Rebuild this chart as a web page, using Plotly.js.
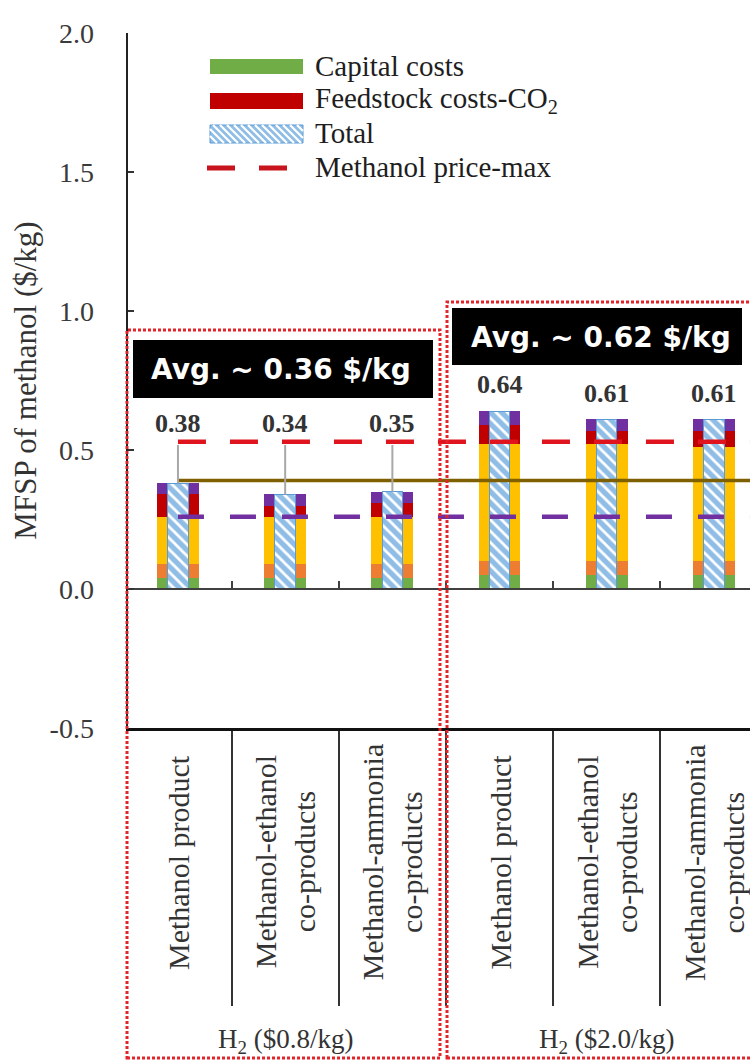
<!DOCTYPE html>
<html><head><meta charset="utf-8">
<script src="https://cdn.plot.ly/plotly-3.0.1.min.js"></script>
<style>html,body{margin:0;padding:0;background:#fff}#chart{width:750px;height:1061px}</style>
</head><body><div id="chart"></div>
<script>
// ---- data ----
const categories = ['Methanol product', 'Methanol-ethanol<br>co-products', 'Methanol-ammonia<br>co-products',
                    'Methanol product', 'Methanol-ethanol<br>co-products', 'Methanol-ammonia<br>co-products'];
const groupLabels = ['H<sub>2</sub> ($0.8/kg)', 'H<sub>2</sub> ($2.0/kg)'];
const capitalCosts   = [0.04, 0.04, 0.04, 0.05, 0.05, 0.05];
const omCosts        = [0.05, 0.05, 0.05, 0.05, 0.05, 0.05];
const feedstockH2    = [0.17, 0.17, 0.17, 0.42, 0.42, 0.41];
const feedstockCO2   = [0.08, 0.04, 0.05, 0.07, 0.05, 0.06];
const utilityCosts   = [0.04, 0.04, 0.04, 0.05, 0.04, 0.04];
const totals         = [0.38, 0.34, 0.35, 0.64, 0.61, 0.61];
const groupAverages  = [0.36, 0.62];
const methanolPriceMax = 0.53;
const methanolPriceAvg = 0.39;
const methanolPriceMin = 0.26;
const yTickVals   = [-0.5, 0, 0.5, 1.0, 1.5, 2.0];
const yTickLabels = ['-0.5', '0.0', '0.5', '1.0', '1.5', '2.0'];

// ---- geometry helpers (pixels -> paper) ----
const L = 128, T = 33, B = 333, W = 750, H = 1061;
const PW = W - L, PH = H - T - B;
const px = p => (p - L) / PW;
const py = p => (H - B - p) / PH;

const xs = categories.map((_, i) => i);
const serif = 'Liberation Serif, Times New Roman, serif';

function seg(name, vals, color) {
  return {type: 'bar', name: name, x: xs, y: vals, width: 0.39, marker: {color: color, line: {width: 0}},
          xaxis: 'x', yaxis: 'y', showlegend: false, hoverinfo: 'name+y'};
}
const traces = [
  seg('Capital costs', capitalCosts, '#70ad47'),
  seg('O&M costs', omCosts, '#ed7d31'),
  seg('Feedstock costs-H2', feedstockH2, '#ffc000'),
  seg('Feedstock costs-CO2', feedstockCO2, '#c00000'),
  seg('Utility costs', utilityCosts, '#7030a0'),
  {type: 'bar', name: 'Total', x: xs, y: totals, width: 0.19, xaxis: 'x2', yaxis: 'y', showlegend: false,
   marker: {color: '#8fbde6', line: {color: '#5b9bd5', width: 1},
            pattern: {shape: '\\', fillmode: 'replace', fgcolor: '#ffffff', bgcolor: '#8fbde6', size: 8, solidity: 0.35}}},
  {type: 'scatter', mode: 'lines', name: 'Methanol price-max', x: [0, 7], y: [methanolPriceMax, methanolPriceMax],
   xaxis: 'x2', yaxis: 'y', showlegend: false, line: {color: '#e0141e', width: 4.5, dash: '28px,24px'}},
  {type: 'scatter', mode: 'lines', name: 'Methanol price-avg', x: [0, 7], y: [methanolPriceAvg, methanolPriceAvg],
   xaxis: 'x2', yaxis: 'y', showlegend: false, line: {color: '#7f6000', width: 3.5}},
  {type: 'scatter', mode: 'lines', name: 'Methanol price-min', x: [0, 7], y: [methanolPriceMin, methanolPriceMin],
   xaxis: 'x2', yaxis: 'y', showlegend: false, line: {color: '#7030a0', width: 4.5, dash: '26px,26px'}}
];
// leader lines for first group labels
const lx = [], ly = [];
for (let i = 0; i < 3; i++) { lx.push(i, i, null); ly.push(0.518, totals[i], null); }
traces.push({type: 'scatter', mode: 'lines', x: lx, y: ly, xaxis: 'x2', yaxis: 'y', showlegend: false,
             hoverinfo: 'skip', line: {color: '#a8a8a8', width: 2}});
traces.push({type: 'scatter', mode: 'markers', x: [0], y: [0], xaxis: 'x3', yaxis: 'y', showlegend: false,
             hoverinfo: 'skip', marker: {opacity: 0}});

const annotations = [];
function ann(o) { annotations.push(Object.assign({showarrow: false, xanchor: 'center', yanchor: 'middle'}, o)); }
// value labels
totals.forEach((t, i) => {
  ann({x: i, y: i < 3 ? 0.597 : t + 0.095, xref: 'x', yref: 'y', text: t.toFixed(2),
    font: {family: serif, size: 26, color: '#333333', weight: 700}});
});
// category labels
categories.forEach((c, i) => {
  ann({x: i, y: py(862), xref: 'x', yref: 'paper', text: c, textangle: -90,
    font: {family: serif, size: 30, color: '#333333'}});
});
// group labels
groupLabels.forEach((g, k) => {
  ann({x: 1 + 3 * k, y: py(1041), xref: 'x', yref: 'paper', text: g,
    font: {family: serif, size: 27, color: '#333333'}});
});
// average boxes text
ann({x: px(281), y: py(369), xref: 'paper', yref: 'paper',
  text: 'Avg. ~ ' + groupAverages[0].toFixed(2) + ' $/kg', font: {family: 'DejaVu Sans', size: 28, color: '#ffffff', weight: 700}});
ann({x: px(601), y: py(337), xref: 'paper', yref: 'paper',
  text: 'Avg. ~ ' + groupAverages[1].toFixed(2) + ' $/kg', font: {family: 'DejaVu Sans', size: 28, color: '#ffffff', weight: 700}});
// legend text
const legendNames = ['Capital costs', 'Feedstock costs-CO<sub>2</sub>', 'Total', 'Methanol price-max'];
const legendRows = [66, 100, 133, 167];
legendNames.forEach((n, k) => {
  ann({x: px(313), y: py(legendRows[k]), xref: 'paper', yref: 'paper', xanchor: 'left',
    text: n, font: {family: serif, size: 29, color: '#1e1e1e'}});
});

const shapes = [];
const dotted = {color: '#e3242b', width: 3, dash: '3px,2px'};
shapes.push({type: 'rect', xref: 'paper', yref: 'paper', x0: px(127), x1: px(440), y0: py(1058), y1: py(330), line: dotted});
shapes.push({type: 'rect', xref: 'paper', yref: 'paper', x0: px(447), x1: px(770), y0: py(1058), y1: py(302), line: dotted});
shapes.push({type: 'rect', xref: 'paper', yref: 'paper', x0: px(133), x1: px(433), y0: py(398), y1: py(340), fillcolor: '#000', line: {width: 0}});
shapes.push({type: 'rect', xref: 'paper', yref: 'paper', x0: px(452), x1: px(742), y0: py(365), y1: py(308), fillcolor: '#000', line: {width: 0}});
// legend swatches
shapes.push({type: 'rect', xref: 'paper', yref: 'paper', x0: px(210), x1: px(303), y0: py(74), y1: py(59), fillcolor: '#70ad47', line: {width: 0}});
shapes.push({type: 'rect', xref: 'paper', yref: 'paper', x0: px(210), x1: px(303), y0: py(109), y1: py(93), fillcolor: '#c00000', line: {width: 0}});
shapes.push({type: 'rect', xref: 'paper', yref: 'paper', x0: px(210), x1: px(303), y0: py(143), y1: py(125), fillcolor: '#8fbde6', line: {color: '#5b9bd5', width: 1}});
let hp = '';
for (let s = 210 - 18; s < 303; s += 7) {
  let x0 = s, y0 = 125, x1 = s + 18, y1 = 143;
  if (x0 < 210) { y0 += 210 - x0; x0 = 210; }
  if (x1 > 303) { y1 -= x1 - 303; x1 = 303; }
  if (x1 > x0) hp += 'M' + px(x0) + ',' + py(y0) + 'L' + px(x1) + ',' + py(y1);
}
shapes.push({type: 'path', xref: 'paper', yref: 'paper', path: hp, line: {color: '#ffffff', width: 2.2}});
shapes.push({type: 'line', xref: 'paper', yref: 'paper', x0: px(207), x1: px(288), y0: py(168), y1: py(168),
  line: {color: '#c8141c', width: 5, dash: '28px,24px'}});

const xr = [-0.466, 5.336];
const sepVals = [0.5, 1.5, 2.5, 3.5, 4.5];
const layout = {
  width: W, height: H, margin: {l: L, r: 0, t: T, b: B, pad: 0},
  paper_bgcolor: '#ffffff', plot_bgcolor: '#ffffff',
  barmode: 'stack', showlegend: false,
  xaxis: {domain: [0, 1], range: xr, anchor: 'y', showline: true, linecolor: '#111', linewidth: 3,
          ticks: 'outside', tickvals: sepVals, ticklen: 275, tickwidth: 2, tickcolor: '#333',
          showticklabels: false, showgrid: false, zeroline: false, fixedrange: true},
  xaxis2: {overlaying: 'x', matches: 'x', anchor: 'y', visible: false, range: xr},
  xaxis3: {overlaying: 'x', matches: 'x', anchor: 'free', position: 0.2, range: xr, showline: true,
           linecolor: '#404040', linewidth: 2, ticks: 'inside', tickvals: sepVals, ticklen: 7, tickwidth: 2,
           tickcolor: '#404040', showticklabels: false, showgrid: false, zeroline: false},
  yaxis: {range: [-0.5, 2.0], tickvals: yTickVals, ticktext: yTickLabels, ticks: 'inside', ticklen: 6, tickwidth: 2,
          tickcolor: '#333', showline: true, linecolor: '#222', linewidth: 2.5, showgrid: false, zeroline: false,
          ticklabelstandoff: 26, tickfont: {family: serif, size: 28, color: '#3a3a3a'},
          title: {text: 'MFSP of methanol ($/kg)', font: {family: serif, size: 31, color: '#333'}, standoff: 4},
          automargin: false, fixedrange: true},
  annotations: annotations, shapes: shapes
};
Plotly.newPlot('chart', traces, layout, {displayModeBar: false, staticPlot: true});
</script></body></html>
